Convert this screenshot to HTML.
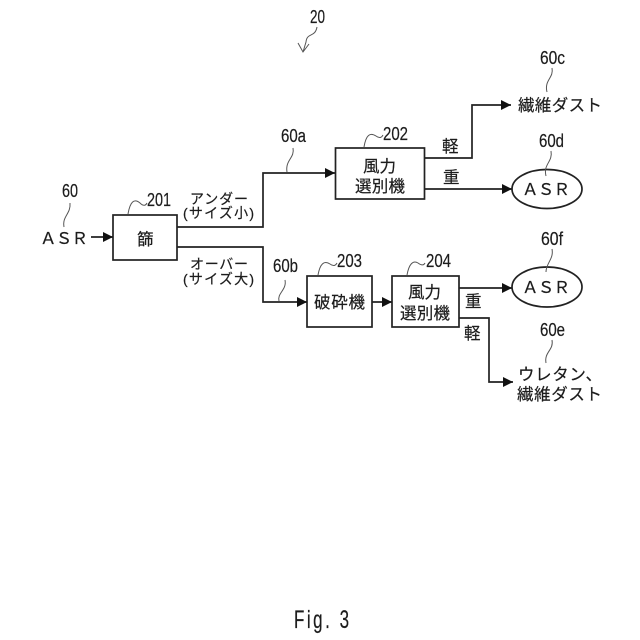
<!DOCTYPE html>
<html><head><meta charset="utf-8"><style>
html,body{margin:0;padding:0;background:#fff}
svg{display:block}
text{font-family:"Liberation Sans","Noto Sans CJK JP",sans-serif;fill:#1c1c1c;stroke:#1c1c1c;stroke-width:.2}
.n{font-size:18px}
.j{font-size:16.500px}
.s{font-size:14px}
.l{fill:none;stroke:#222;stroke-width:1.7}
.c{fill:none;stroke:#555;stroke-width:1}
</style></head><body>
<svg width="640" height="640" viewBox="0 0 640 640" xmlns="http://www.w3.org/2000/svg">
<defs><marker id="a" markerUnits="userSpaceOnUse" markerWidth="12" markerHeight="12" refX="10" refY="6" orient="auto"><path d="M0 1L10 6L0 11Z" fill="#111"/></marker></defs>
<rect class="l" x="113" y="215" width="64" height="45"/>
<rect class="l" x="335.500" y="148" width="89" height="51"/>
<rect class="l" x="307" y="276" width="65" height="51"/>
<rect class="l" x="392" y="276" width="67" height="51"/>
<ellipse class="l" cx="547" cy="189" rx="35" ry="19.500"/>
<ellipse class="l" cx="547" cy="287" rx="35" ry="20"/>
<path class="l" marker-end="url(#a)" d="M91 237H113"/>
<path class="l" marker-end="url(#a)" d="M177 227H263V173H335"/>
<path class="l" marker-end="url(#a)" d="M177 247H263V302H307"/>
<path class="l" marker-end="url(#a)" d="M372 302H392"/>
<path class="l" marker-end="url(#a)" d="M424 158H472V105H511"/>
<path class="l" marker-end="url(#a)" d="M424 189H512"/>
<path class="l" marker-end="url(#a)" d="M459 288H512"/>
<path class="l" marker-end="url(#a)" d="M459 318H489V382H513"/>
<path class="c" d="M317 27C315 38 307 32 306 42L303 52M298 43L303 52L309 44"/>
<path class="c" d="M70 203C71 214 62 216 64 227"/>
<path class="c" d="M128 214C130 202 134 198 140 203C144 207 146 205 147 203"/>
<path class="c" d="M293 148C295 158 285 160 287 172"/>
<path class="c" d="M285 280C287 290 277 293 279 301"/>
<path class="c" d="M364 147C366 135 370 132 376 136C380 139 382 137 383 135"/>
<path class="c" d="M318 275C320 264 324 260 330 264C334 267 336 265 337 263"/>
<path class="c" d="M407 275C409 264 413 260 418 263C422 266 424 265 425 263"/>
<path class="c" d="M552 68C554 78 544 80 547 92"/>
<path class="c" d="M551 151C553 162 543 164 546 176"/>
<path class="c" d="M552 249C554 259 546 263 546 272"/>
<path class="c" d="M552 340C554 350 544 352 546 363"/>
<text class="n" x="310" y="23" textLength="15" lengthAdjust="spacingAndGlyphs">20</text>
<text class="n" x="62" y="197" textLength="16" lengthAdjust="spacingAndGlyphs">60</text>
<text class="n" x="147" y="206" textLength="24" lengthAdjust="spacingAndGlyphs">201</text>
<text class="n" x="281" y="142" textLength="25" lengthAdjust="spacingAndGlyphs">60a</text>
<text class="n" x="273" y="272" textLength="25" lengthAdjust="spacingAndGlyphs">60b</text>
<text class="n" x="383" y="140" textLength="25" lengthAdjust="spacingAndGlyphs">202</text>
<text class="n" x="337" y="267" textLength="25" lengthAdjust="spacingAndGlyphs">203</text>
<text class="n" x="426" y="267" textLength="25" lengthAdjust="spacingAndGlyphs">204</text>
<text class="n" x="540" y="64" textLength="25" lengthAdjust="spacingAndGlyphs">60c</text>
<text class="n" x="539" y="147" textLength="25" lengthAdjust="spacingAndGlyphs">60d</text>
<text class="n" x="541" y="245" textLength="22" lengthAdjust="spacingAndGlyphs">60f</text>
<text class="n" x="540" y="336" textLength="25" lengthAdjust="spacingAndGlyphs">60e</text>
<text class="j" x="40" y="244" textLength="48">ＡＳＲ</text>
<text class="j" x="137" y="245">篩</text>
<text class="s" x="190" y="204" textLength="58">アンダー</text>
<text class="s" x="183" y="218" textLength="71">(サイズ小)</text>
<text class="s" x="190" y="269" textLength="58">オーバー</text>
<text class="s" x="183" y="284" textLength="71">(サイズ大)</text>
<text class="j" x="363" y="172" textLength="33">風力</text>
<text class="j" x="355" y="192" textLength="50">選別機</text>
<text class="j" x="314" y="308" textLength="51">破砕機</text>
<text class="j" x="408" y="298" textLength="33">風力</text>
<text class="j" x="400" y="319" textLength="50">選別機</text>
<text class="j" x="442" y="152">軽</text>
<text class="j" x="443" y="183">重</text>
<text class="j" x="465" y="307">重</text>
<text class="j" x="464" y="339">軽</text>
<text class="j" x="518" y="111" textLength="84">繊維ダスト</text>
<text class="j" x="522" y="195" textLength="48">ＡＳＲ</text>
<text class="j" x="522" y="293" textLength="48">ＡＳＲ</text>
<text class="j" x="518" y="380" textLength="84">ウレタン、</text>
<text class="j" x="517" y="400" textLength="85">繊維ダスト</text>
<text transform="translate(294 628) scale(.68 1)" font-size="25" textLength="81">Fig. 3</text>
</svg>
</body></html>
